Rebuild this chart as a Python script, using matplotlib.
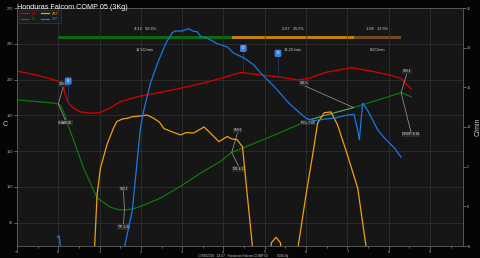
import numpy as np
import matplotlib
matplotlib.use("Agg")
import matplotlib.pyplot as plt

plt.rcParams['font.family'] = ['Liberation Sans', 'DejaVu Sans']

title = "Honduras Falcom COMP 05 (3Kg)"
footer = "17/08/2018   14:47   Honduras Falcom COMP 05          3000.0g"

# ET (red), left axis, minutes / C
et_t = [-1.0, -0.5, -0.15, 0.0, 0.04, 0.08, 0.13, 0.17, 0.25, 0.37, 0.53, 0.78, 1.0, 1.25,
        1.5, 2.0, 2.5, 2.96, 3.5, 3.93, 4.42, 4.9, 5.4, 5.8, 6.05, 6.5, 7.1, 7.65, 8.0,
        8.3, 8.37, 8.55]
et_v = [217.2, 213.5, 210.3, 208.5, 207.0, 208.8, 203.0, 197.0, 190.0, 186.0, 183.0, 181.8,
        182.3, 186.0, 191.5, 196.3, 199.5, 202.7, 207.0, 211.0, 216.0, 213.9, 212.0, 209.7,
        211.0, 216.2, 220.0, 216.6, 214.0, 211.0, 208.2, 202.0]

# BT (green)
bt_t = [-1.0, -0.5, -0.05, 0.05, 0.1, 0.17, 0.25, 0.41, 0.61, 0.94, 1.26, 1.45, 1.6, 1.8,
        2.0, 2.48, 2.96, 3.45, 3.93, 4.2, 4.42, 5.06, 5.5, 6.04, 6.5, 7.15, 7.8, 8.3, 8.54]
bt_v = [193.0, 191.5, 190.0, 188.5, 185.0, 179.0, 170.5, 155.4, 136.0, 110.8, 103.0, 101.0,
        100.7, 101.5, 103.8, 110.8, 120.6, 131.7, 141.5, 149.0, 152.0, 161.0, 167.5, 175.5,
        180.5, 186.5, 193.5, 199.1, 195.7]

# delta ET (orange), right axis C/min
det_t = [0.85, 0.88, 0.94, 1.02, 1.18, 1.34, 1.42, 1.55, 1.67, 1.8, 1.99, 2.15, 2.31, 2.45,
         2.56, 2.75, 2.96, 3.1, 3.28, 3.53, 3.69, 3.89, 4.09, 4.2, 4.33, 4.46, 4.54, 4.7,
         4.8, 5.1, 5.16, 5.27, 5.38, 5.44, 5.7, 5.81, 6.0, 6.16, 6.28, 6.44, 6.6, 6.76,
         7.0, 7.25, 7.33, 7.45, 7.5]
det_v = [-8.0, -5.0, 1.5, 4.8, 7.8, 9.9, 10.7, 11.0, 11.1, 11.3, 11.4, 11.5, 11.1, 10.6,
         9.8, 9.4, 9.0, 9.3, 9.25, 10.0, 9.2, 8.15, 8.8, 8.5, 8.4, 7.5, 3.3, -5.0,
         -8.0, -8.0, -4.6, -3.9, -4.6, -8.0, -8.0, -5.0, 1.5, 6.5, 10.5, 11.8, 11.9, 10.3,
         6.5, 2.3, -0.6, -5.0, -8.0]

# delta BT (blue)
dbt_t = [-0.02, 0.02, 0.04, 0.06, np.nan, 1.55, 1.6, 1.79, 1.99, 2.07, 2.23, 2.4, 2.6, 2.76,
         2.84, 3.0, 3.16, 3.25, 3.37, 3.45, 3.61, 3.85, 4.09, 4.25, 4.5, 4.74, 4.9, 5.23,
         5.55, 5.71, 6.0, 6.19, 6.45, 6.67, 7.0, 7.16, 7.25, 7.29, 7.37, 7.49, 7.74, 7.9,
         8.14, 8.3]
dbt_v = [-3.9, -3.7, -4.5, -6.0, np.nan, -6.0, -5.2, -0.6, 9.9, 12.1, 15.5, 18.0, 20.5, 21.9,
         22.1, 22.1, 22.4, 22.1, 22.0, 21.4, 21.2, 20.5, 20.1, 19.3, 18.7, 17.8, 16.8, 15.1,
         13.2, 12.4, 11.1, 10.8, 11.0, 11.1, 11.5, 11.6, 9.6, 8.4, 13.0, 12.1, 9.6, 8.6,
         7.35, 6.2]

# phases
phase_bounds = [0.0, 4.2, 7.15, 8.3]
phase_colors = ['#0b6a0b', '#c0820e', '#6e4c22']
phase_labels = ["4:12   50.6%", "2:57   35.5%", "1:09   13.9%"]
phase_rates = ["18.5C/min", "13.2C/min", "8.2C/min"]

# BT event annotations: point, temp label pos, event label pos
ann_t = [0.0, 1.6, 4.2, 7.15, 8.3]
ann_v = [189.6, 100.7, 149.0, 186.5, 199.1]
ann_temp = ["189.8", "100.7", "150.6", "186.5", "199.1"]
ann_name = ["CHARGE", "TP 1:36", "DE 4:12", "FCs 7:09", "DROP 8:18"]
ann_temp_xy = [(0.12, 206.0), (1.58, 118.5), (4.34, 167.5), (5.95, 207.0), (8.44, 216.8)]
ann_name_xy = [(0.17, 174.0), (1.58, 86.5), (4.37, 135.0), (6.04, 174.0), (8.54, 164.0)]

# event flags over ET
flag_t = [0.24, 4.48, 5.32]
flag_top = [208.8, 236.2, 232.0]
flag_base = [191.0, 216.6, 212.4]
flag_text = ["E1", "E2", "E3"]

bg = '#161616'
tick_c = '#b0b0b0'
grid_c = '#343434'

fig = plt.figure(figsize=(4.8, 2.58), dpi=100, facecolor='#050505')
ax = fig.add_axes([17/480, 12/258, 446/480, 238/258])
ax.set_facecolor(bg)
ax2 = ax.twinx()

ax.set_xlim(-1, 9.8)
ax.set_ylim(70.5, 270)
ax2.set_ylim(-5, 25)

ax.set_xticks(range(-1, 10))
ax.set_xticks(np.arange(-0.5, 9.8, 1.0), minor=True)
ax.set_yticks(range(90, 271, 30))
ax2.set_yticks(range(-5, 26, 5))
ax.grid(True, which='major', color=grid_c, lw=0.5)
for a in (ax, ax2):
    a.tick_params(colors=tick_c, labelsize=2.8, length=2, width=0.4, pad=1)
    a.tick_params(which='minor', colors=tick_c, length=1.2, width=0.4)
    for s in a.spines.values():
        s.set_color('#5a5a5a')
        s.set_linewidth(0.5)
ax.tick_params(axis='x', pad=0.6)

fig.text(5/480, 1 - 125/258, "C", color='#d0d0d0', fontsize=5, ha='center', va='center')
ax2.set_ylabel("C/min", color='#d0d0d0', fontsize=5, labelpad=2)

l1, = ax.plot(et_t, et_v, color='#dd0000', lw=0.9, label='ET')
l2, = ax.plot(bt_t, bt_v, color='#0a7a0a', lw=0.9, label='BT')
l3, = ax2.plot(det_t, det_v, color='#f0a010', lw=0.9, label='ΔET')
l4, = ax2.plot(dbt_t, dbt_v, color='#1a78e0', lw=0.9, label='ΔBT')

# phase bars
for i in range(3):
    x0, x1 = phase_bounds[i], phase_bounds[i + 1]
    ax.barh(245.3, x1 - x0, left=x0, height=3.2, color=phase_colors[i], zorder=1)
    ax.text((x0 + x1) / 2, 252.5, phase_labels[i], color='#d8d8d8', fontsize=2.8,
            ha='center', va='center')
    ax.text((x0 + x1) / 2, 234.8, phase_rates[i], color='#d8d8d8', fontsize=2.8,
            ha='center', va='center')

# annotations
for i in range(len(ann_t)):
    p = (ann_t[i], ann_v[i])
    tx, ty = ann_temp_xy[i]
    nx, ny = ann_name_xy[i]
    ax.plot([tx, p[0], nx], [ty - 2, p[1], ny + 2], color='#a0a0a0', lw=0.5, zorder=4)
    ax.text(tx, ty, ann_temp[i], color='#e0e0e0', fontsize=2.4, ha='center', va='center',
            zorder=5, bbox=dict(boxstyle='square,pad=0.2', fc='#2a2a2a', ec='none'))
    ax.text(nx, ny, ann_name[i], color='#e0e0e0', fontsize=2.4, ha='center', va='center',
            zorder=5, bbox=dict(boxstyle='square,pad=0.2', fc='#2a2a2a', ec='none'))

# event flags
for i in range(len(flag_t)):
    ax.plot([flag_t[i], flag_t[i]], [flag_base[i], flag_top[i]], color='#1c3c78', lw=0.5,
            zorder=4)
    ax.text(flag_t[i], flag_top[i], flag_text[i], color='white', fontsize=2.0, ha='center',
            va='center', zorder=6,
            bbox=dict(boxstyle='round,pad=0.35', fc='#3a80da', ec='#3a80da'))

leg = ax2.legend(handles=[l1, l2, l3, l4], ncol=2, loc='upper left', fontsize=2.6,
                 frameon=True, facecolor='#1e1e1e', edgecolor='#4a4a4a',
                 handlelength=2.2, columnspacing=1.5, borderpad=0.5, labelspacing=0.5,
                 bbox_to_anchor=(0.0, 1.0))
leg.get_frame().set_linewidth(0.4)
for txt, ln in zip(leg.get_texts(), [l1, l2, l3, l4]):
    txt.set_color(ln.get_color())

fig.text(17/480, 1 - 8.5/258, title, color='white', fontsize=5.2, ha='left', va='baseline')
fig.text(243/480, 0.3/258, footer, color='#c8c8c8', fontsize=2.3, ha='center', va='bottom')

fig.savefig("out.png", dpi=100, facecolor=fig.get_facecolor())
